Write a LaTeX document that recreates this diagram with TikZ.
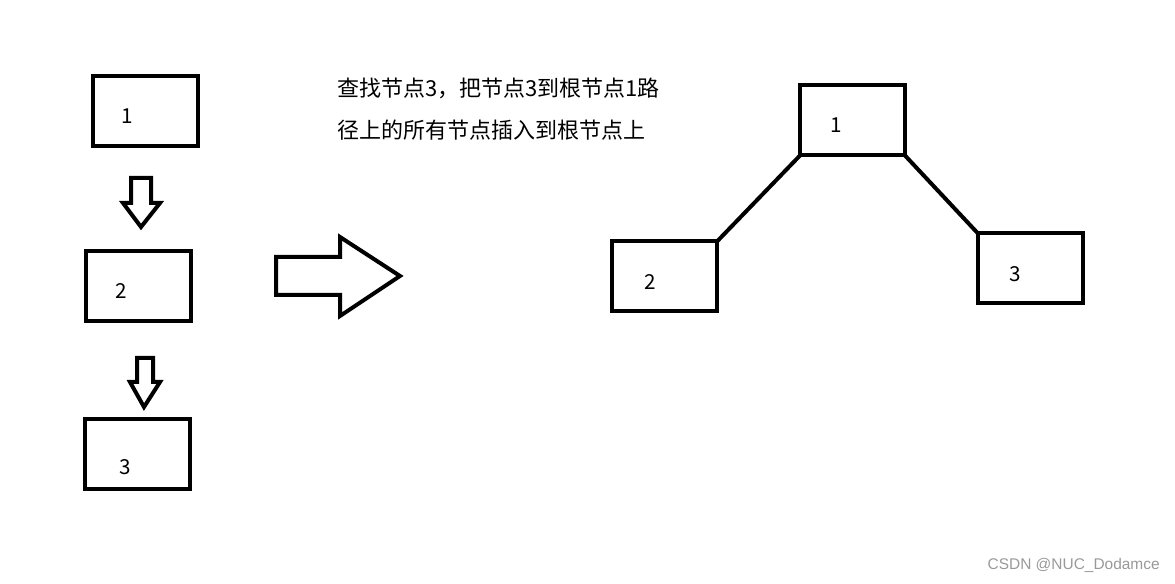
\documentclass[tikz,border=0pt]{standalone}
\usepackage{fontspec}
\setmainfont{Noto Sans CJK SC}
\newfontfamily\wmfont{Liberation Sans}
\begin{document}
\begin{tikzpicture}[x=0.75pt,y=-0.75pt,
  box/.style={draw=black,line width=3pt,minimum width=78.75pt,minimum height=52.5pt,inner sep=0pt,outer sep=0pt},
  lbl/.style={font=\fontsize{15.5}{18}\selectfont,inner sep=0pt},
  shapeline/.style={draw=black,line width=3pt,line join=miter},
  conn/.style={draw=black,line width=3pt},
  captext/.style={font=\fontsize{16.5}{20}\selectfont,inner sep=0pt,anchor=west}]
\useasboundingbox (0,0) rectangle (1175,584);
% left column
\node[box] (a1) at (145.5,111) {};
\node[lbl] (a1t) at (127,116) {1};
\node[box] (a2) at (138.5,286.5) {};
\node[lbl] (a2t) at (121,291) {2};
\node[box] (a3) at (137.5,454) {};
\node[lbl] (a3t) at (125,467) {3};
% down arrows
\draw[shapeline] (131,178) -- (151,178) -- (151,203) -- (160,203) -- (141,227) -- (123,203) -- (131,203) -- cycle;
\draw[shapeline] (137,358) -- (153,358) -- (153,382) -- (160,382) -- (144,407) -- (130,382) -- (137,382) -- cycle;
% big arrow
\draw[shapeline] (276,257) -- (340,257) -- (340,237) -- (400,276) -- (340,316) -- (340,295) -- (276,295) -- cycle;
% caption
\node[captext] (c1) at (337,88) {查找节点3，把节点3到根节点1路};
\node[captext] (c2) at (337,130) {径上的所有节点插入到根节点上};
% right tree
\node[box] (b1) at (852.5,120.5) {};
\node[lbl] (b1t) at (836,125) {1};
\node[box] (b2) at (664.5,276.5) {};
\node[lbl] (b2t) at (650,282) {2};
\node[box] (b3) at (1030.5,268.5) {};
\node[lbl] (b3t) at (1015,274) {3};
\draw[conn] (b2.north east) -- (b1.south west);
\draw[conn] (b1.south east) -- (b3.north west);
% watermark
\node[font=\wmfont\fontsize{11.6}{13}\selectfont,text=black!40,anchor=east,inner sep=0pt] (wm) at (1160,565) {CSDN @NUC\_Dodamce};
\end{tikzpicture}
\end{document}
